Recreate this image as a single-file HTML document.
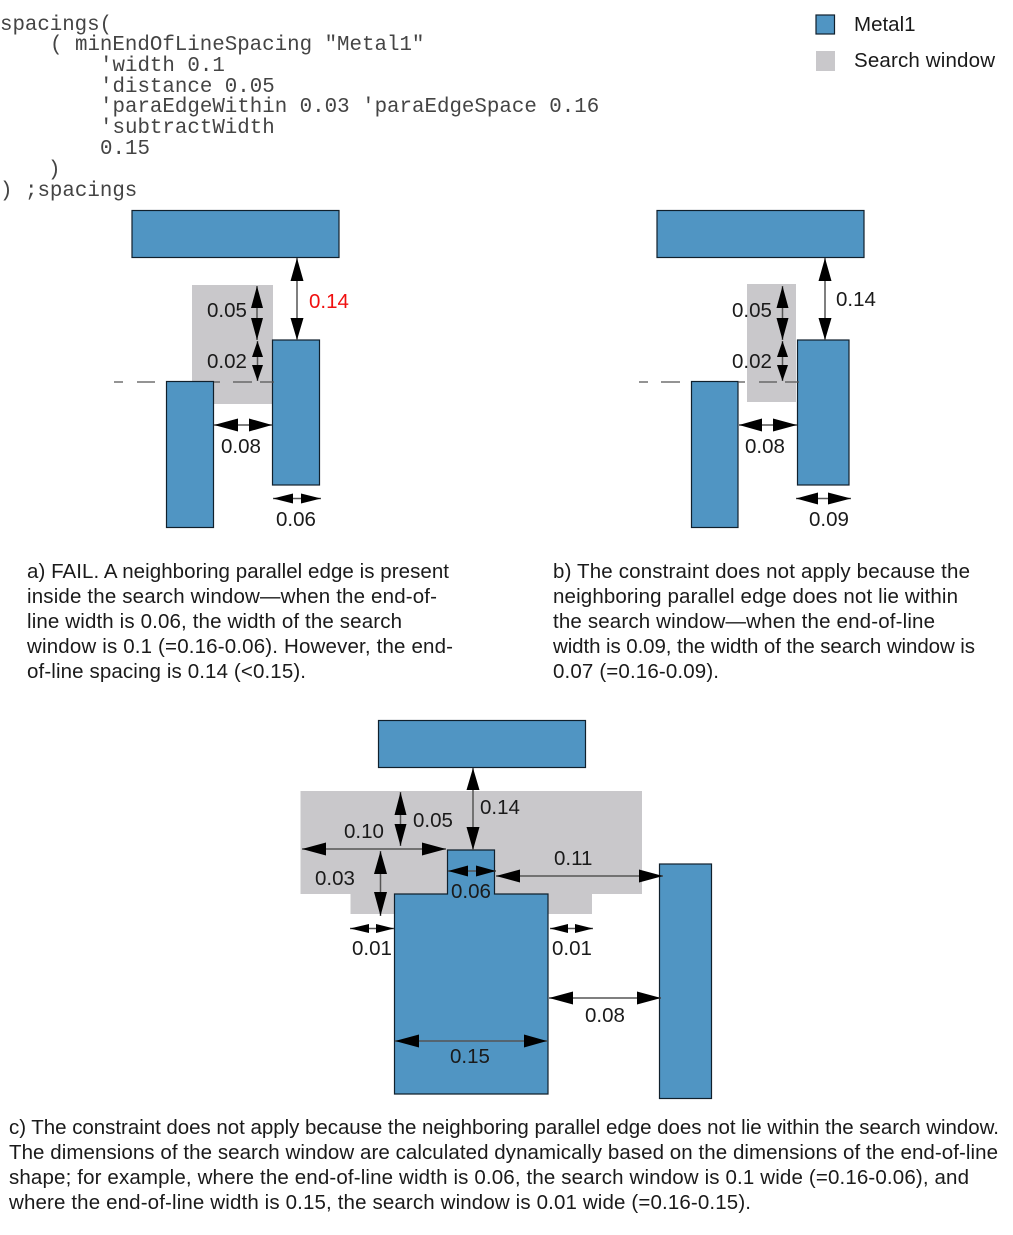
<!DOCTYPE html>
<html><head><meta charset="utf-8"><style>
html,body{margin:0;padding:0;background:#fff}
svg{display:block}
.m{fill:#5095c3;stroke:#10202c;stroke-width:1.2}
.g{fill:#c9c8cb}
.s{stroke:#555;stroke-width:1.5;fill:none}
.h{fill:#000}
.d{stroke:#555;stroke-width:1.3;fill:none}
text{font-family:"Liberation Sans",sans-serif;font-size:20.5px;fill:#1a1a1a}
.c text{font-family:"Liberation Mono",monospace;font-size:20.8px;fill:#444}
</style></head><body>
<svg width="1013" height="1235" viewBox="0 0 1013 1235" xmlns="http://www.w3.org/2000/svg">
<g class="c">
<text x="0" y="30" textLength="112" lengthAdjust="spacing">spacings(</text>
<text x="50" y="50">( minEndOfLineSpacing "Metal1"</text>
<text x="100" y="71">'width 0.1</text>
<text x="100" y="92">'distance 0.05</text>
<text x="100" y="112">'paraEdgeWithin 0.03 'paraEdgeSpace 0.16</text>
<text x="100" y="133">'subtractWidth</text>
<text x="100" y="154">0.15</text>
<text x="48" y="175">)</text>
<text x="0" y="196">) ;spacings</text>
</g>
<rect x="816" y="15" width="18.5" height="19" class="m"/>
<rect x="816" y="51" width="19" height="20" class="g"/>
<text x="854" y="31">Metal1</text>
<text x="854" y="67" textLength="141">Search window</text>

<!-- a -->
<rect x="192" y="285" width="81" height="119" class="g"/>
<rect x="132" y="210.5" width="207" height="47" class="m"/>
<rect x="272.5" y="340" width="47" height="145" class="m"/>
<rect x="166.5" y="381.5" width="47" height="146" class="m"/>
<path class="d" d="M114 382H123M137 382H155M214 382H220M233 382H252M260 382H274"/>
<path class="s" d="M297 258V340M257 286V340M257.5 341V381M214 425H272M273 498.5H321"/>
<path class="h" d="M297 258L303.5 281H290.5ZM297 340L303.5 318H290.5ZM257 286L263 308H251ZM257 340L263 318H251ZM257.5 341L263 357H252ZM257.5 381L263 365H252ZM214 425L238 418.5V431.5ZM272 425L249 418.5V431.5ZM273 498.5L293 493.5V503.5ZM321 498.5L301 493.5V503.5Z"/>
<text x="207" y="317">0.05</text>
<text x="207" y="368">0.02</text>
<text x="309" y="308" style="fill:#f01010">0.14</text>
<text x="221" y="453">0.08</text>
<text x="276" y="526">0.06</text>

<!-- b -->
<rect x="747" y="284" width="49" height="118" class="g"/>
<rect x="657" y="210.5" width="207" height="47" class="m"/>
<rect x="797.5" y="340" width="51.5" height="145" class="m"/>
<rect x="691.5" y="381.5" width="46.5" height="146" class="m"/>
<path class="d" d="M639 382H648M661 382H680M738 382H745M759 382H777M785 382H799"/>
<path class="s" d="M825 258V340M782.5 286V340M782.5 341V381M739 425H797M796 498.5H851"/>
<path class="h" d="M825 258L831.5 281H818.5ZM825 340L831.5 318H818.5ZM782.5 286L788.5 308H776.5ZM782.5 340L788.5 318H776.5ZM782.5 341L788 357H777ZM782.5 381L788 365H777ZM739 425L762 418.5V431.5ZM797 425L773 418.5V431.5ZM796 498.5L818 492.5V504.5ZM851 498.5L828 492.5V504.5Z"/>
<text x="732" y="317">0.05</text>
<text x="732" y="368">0.02</text>
<text x="836" y="306">0.14</text>
<text x="745" y="453">0.08</text>
<text x="809" y="526">0.09</text>

<!-- captions a, b -->
<text x="27" y="578" textLength="422">a) FAIL. A neighboring parallel edge is present</text>
<text x="27" y="603" textLength="410">inside the search window—when the end-of-</text>
<text x="27" y="628" textLength="375">line width is 0.06, the width of the search</text>
<text x="27" y="653" textLength="426">window is 0.1 (=0.16-0.06). However, the end-</text>
<text x="27" y="678" textLength="279">of-line spacing is 0.14 (&lt;0.15).</text>
<text x="553" y="578" textLength="417">b) The constraint does not apply because the</text>
<text x="553" y="603" textLength="405">neighboring parallel edge does not lie within</text>
<text x="553" y="628" textLength="382">the search window—when the end-of-line</text>
<text x="553" y="653" textLength="422">width is 0.09, the width of the search window is</text>
<text x="553" y="678" textLength="166">0.07 (=0.16-0.09).</text>

<!-- c -->
<path class="g" d="M300.5 791H642V894H592V914H350.5V894H300.5Z"/>
<rect x="378.5" y="720.5" width="207" height="47" class="m"/>
<path class="m" d="M447.5 850H494.5V894H548V1094H394.5V894H447.5Z"/>
<rect x="659.5" y="864" width="52" height="234.5" class="m"/>
<path class="s" d="M473 768V850M400.5 792V846M302 849H446M380.5 851V916M448 871H496M496 876H663M350 928.5H394M550 928.5H593M549 998H661M395 1041H547"/>
<path class="h" d="M473 768L479.5 790H466.5ZM473 850L479.5 827H466.5ZM400.5 792L406.5 815H394.5ZM400.5 846L406.5 824H394.5ZM302 849L326 842.5V855.5ZM446 849L422 842.5V855.5ZM380.5 851L387 874H374ZM380.5 916L387 892H374ZM448 871L468 865.5V876.5ZM496 871L476 865.5V876.5ZM496 876L520 869.5V882.5ZM663 876L639 869.5V882.5ZM350 928.5L369 924V933ZM394 928.5L376 924V933ZM550 928.5L568 924V933ZM593 928.5L575 924V933ZM549 998L573 991.5V1004.5ZM661 998L637 991.5V1004.5ZM395 1041L419 1034.5V1047.5ZM547 1041L524 1034.5V1047.5Z"/>
<text x="480" y="814">0.14</text>
<text x="413" y="827">0.05</text>
<text x="344" y="838">0.10</text>
<text x="315" y="885">0.03</text>
<text x="554" y="865">0.11</text>
<text x="451" y="898">0.06</text>
<text x="352" y="955">0.01</text>
<text x="552" y="955">0.01</text>
<text x="585" y="1022">0.08</text>
<text x="450" y="1063">0.15</text>

<text x="9" y="1134" textLength="990">c) The constraint does not apply because the neighboring parallel edge does not lie within the search window.</text>
<text x="9" y="1159" textLength="989">The dimensions of the search window are calculated dynamically based on the dimensions of the end-of-line</text>
<text x="9" y="1184" textLength="960">shape; for example, where the end-of-line width is 0.06, the search window is 0.1 wide (=0.16-0.06), and</text>
<text x="9" y="1209" textLength="742">where the end-of-line width is 0.15, the search window is 0.01 wide (=0.16-0.15).</text>
</svg>
</body></html>
